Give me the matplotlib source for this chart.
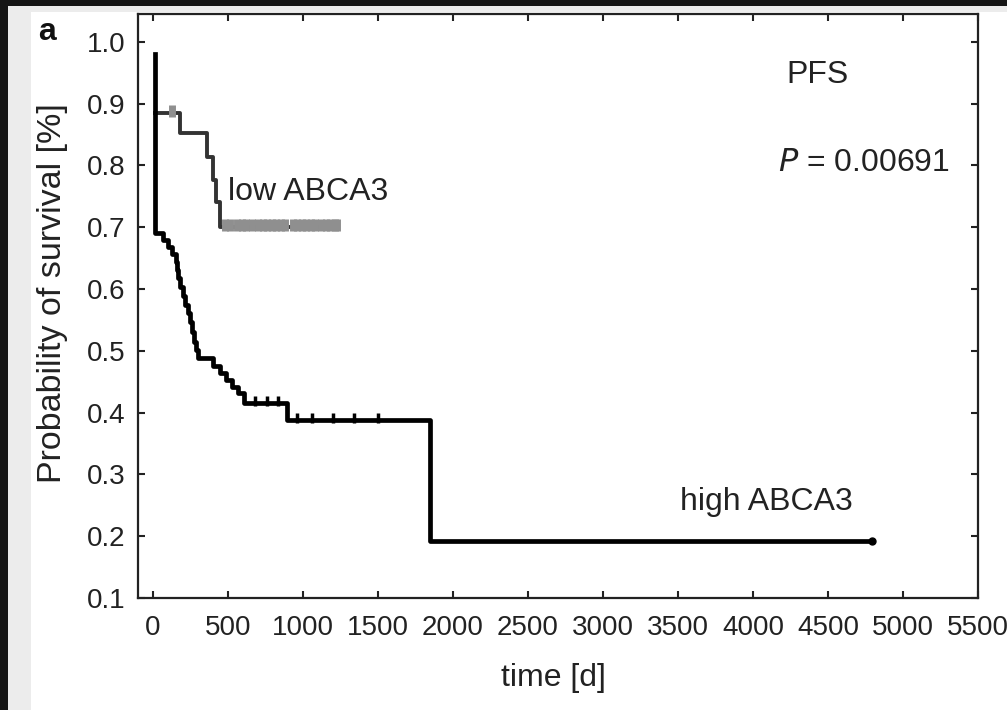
import matplotlib
matplotlib.use("Agg")
import matplotlib.pyplot as plt
from matplotlib.patches import Rectangle

plt.rcParams["font.family"] = ["Liberation Sans", "DejaVu Sans"]

# Kaplan-Meier step points (time in days, survival probability)
high_times = [13, 13, 67, 100, 127, 153, 160, 167, 180, 200, 213, 233, 247, 260,
              273, 287, 300, 400, 447, 487, 527, 567, 607, 893, 1847, 4793]
high_surv = [0.98, 0.691, 0.680, 0.668, 0.657, 0.644, 0.631, 0.618, 0.604, 0.589,
             0.574, 0.561, 0.547, 0.531, 0.515, 0.502, 0.489, 0.476, 0.464, 0.453,
             0.442, 0.432, 0.415, 0.388, 0.193, 0.193]
high_censor_t = [680, 760, 830, 960, 1060, 1200, 1340, 1500]
high_censor_s = [0.415, 0.415, 0.415, 0.388, 0.388, 0.388, 0.388, 0.388]

low_times = [13, 180, 360, 400, 420, 447, 1227]
low_surv = [0.885, 0.853, 0.814, 0.777, 0.740, 0.700, 0.700]
low_censor_t = [127, 480, 510, 560, 590, 620, 660, 700, 730, 760, 790, 820, 850,
                880, 930, 960, 990, 1020, 1050, 1080, 1120, 1150, 1180, 1210, 1227]
low_censor_s = [0.885] + [0.700] * 24

xticks = list(range(0, 5501, 500))
yticks = [0.1, 0.2, 0.3, 0.4, 0.5, 0.6, 0.7, 0.8, 0.9, 1.0]
ytick_labels = [f"{v:.1f}" for v in yticks]

fig = plt.figure(figsize=(10.07, 7.10), dpi=100, facecolor="white")

# page frame: dark border and light margin
W, H = 1007, 710
def px_rect(x0, y0, w, h, color):
    fig.patches.append(Rectangle((x0 / W, 1 - (y0 + h) / H), w / W, h / H,
                                 transform=fig.transFigure, color=color,
                                 zorder=0, linewidth=0))
px_rect(0, 0, W, 12, "#ececec")
px_rect(0, 0, 31, H, "#ececec")
px_rect(0, 0, W, 6, "#151515")
px_rect(0, 0, 8, H, "#151515")

ax = fig.add_axes([138 / W, 1 - 598 / H, (978 - 138) / W, (598 - 14) / H])
ax.set_facecolor("white")

# low ABCA3 group, censored cases marked in grey
ax.plot(low_times, low_surv, drawstyle="steps-post", color="#333333",
        lw=2.8, zorder=3)
ax.plot(low_censor_t, [s + 0.003 for s in low_censor_s], ls="none", marker="|",
        markersize=8, mew=5, color="#8f8f8f", zorder=4)

# high ABCA3 group
ax.plot(high_times, high_surv, drawstyle="steps-post", color="black", lw=3.4,
        zorder=5)
ax.plot(high_censor_t, [s + 0.004 for s in high_censor_s], ls="none", marker="|",
        markersize=7, mew=2.5, color="black", zorder=5)
ax.plot([high_times[-1]], [high_surv[-1]], ls="none", marker="o", markersize=5,
        color="black", zorder=6)

ax.set_xlim(-100, 5500)
ax.set_ylim(0.1, 1.045)
ax.set_xticks(xticks)
ax.set_xticklabels([str(t) for t in xticks])
ax.set_yticks(yticks)
ax.set_yticklabels(ytick_labels)
ax.tick_params(direction="in", length=5, width=1.5, color="#222222",
               labelsize=20, pad=9, top=True, right=True, labelcolor="#222222")
ax.tick_params(axis="x", pad=12)
for sp in ax.spines.values():
    sp.set_linewidth(1.6)
    sp.set_color("#222222")

ax.set_xlabel("time [d]", fontsize=23, color="#222222")
ax.set_ylabel("Probability of survival [%]", fontsize=24.5, color="#222222")
ax.xaxis.set_label_coords(0.494, -0.112)
ax.yaxis.set_label_coords(-0.083, 0.522)

ax.text(500, 0.757, "low ABCA3", fontsize=23, color="#222222", va="center",
        ha="left")
ax.text(3513, 0.256, "high ABCA3", fontsize=23, color="#222222", va="center",
        ha="left")
ax.text(4427, 0.947, "PFS", fontsize=23, color="#222222", va="center",
        ha="center")
ax.text(4167, 0.804, r"$P$ = 0.00691", fontsize=23, color="#222222",
        va="center", ha="left")

fig.text(38 / W, 1 - 32 / H, "a", fontsize=23, fontweight="bold",
         color="#111111", ha="left", va="center")

fig.savefig("out.png", dpi=100, facecolor=fig.get_facecolor())
